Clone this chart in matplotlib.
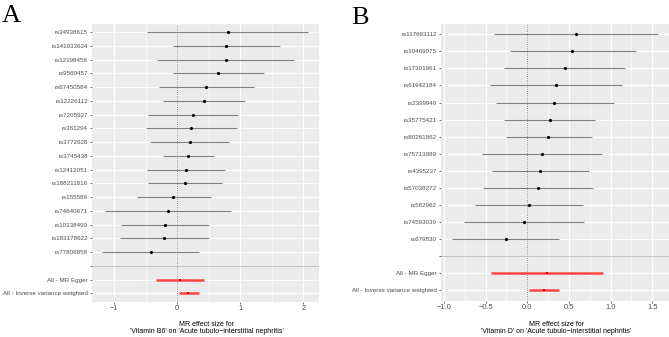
import matplotlib
matplotlib.use("Agg")
import matplotlib.pyplot as plt
import numpy as np

plt.rcParams['font.family'] = ['Liberation Sans', 'DejaVu Sans']

# ---------------- Panel A data (Vitamin B6) ----------------
snps_a = ["rs34938615", "rs141933624", "rs12198456", "rs9560457", "rs67450584",
          "rs12226112", "rs7205927", "rs361294", "rs3772928", "rs3745438",
          "rs12412051", "rs188211816", "rs155589", "rs74640671", "rs10138490",
          "rs183178622", "rs77806858"]
b_a = [0.80, 0.78, 0.77, 0.65, 0.46, 0.42, 0.25, 0.22, 0.20, 0.18,
       0.14, 0.12, -0.06, -0.14, -0.19, -0.21, -0.42]
lo_a = [-0.48, -0.06, -0.32, -0.07, -0.29, -0.22, -0.46, -0.50, -0.43, -0.23,
        -0.48, -0.46, -0.64, -1.14, -0.89, -0.91, -1.19]
hi_a = [2.08, 1.63, 1.86, 1.37, 1.22, 1.07, 0.96, 0.95, 0.83, 0.59,
        0.76, 0.71, 0.53, 0.86, 0.51, 0.50, 0.35]
sum_labels = ["All - MR Egger", "All - Inverse variance weighted"]
sum_b_a = [0.05, 0.18]
sum_lo_a = [-0.33, 0.03]
sum_hi_a = [0.43, 0.35]
xticks_a = [-1, 0, 1, 2]
xticklabels_a = ["\u22121", "0", "1", "2"]
xminor_a = [-0.5, 0.5, 1.5]
xlim_a = (-1.35, 2.25)
title_a = "MR effect size for\n'Vitamin B6' on 'Acute tubulo\u2212interstitial nephritis'"

# ---------------- Panel B data (Vitamin D) ----------------
snps_b = ["rs117693112", "rs10469075", "rs17301961", "rs61942184", "rs2399949",
          "rs35775421", "rs80261862", "rs75713989", "rs4395237", "rs57038272",
          "rs582962", "rs74593039", "rs679830"]
b_b = [0.58, 0.54, 0.45, 0.34, 0.32, 0.27, 0.25, 0.18, 0.15, 0.13, 0.02, -0.04, -0.26]
lo_b = [-0.40, -0.21, -0.28, -0.45, -0.38, -0.28, -0.26, -0.54, -0.42, -0.53, -0.63, -0.76, -0.90]
hi_b = [1.57, 1.30, 1.17, 1.14, 1.04, 0.81, 0.78, 0.90, 0.74, 0.79, 0.67, 0.68, 0.38]
sum_b_b = [0.24, 0.20]
sum_lo_b = [-0.43, 0.02]
sum_hi_b = [0.91, 0.38]
xticks_b = [-1.0, -0.5, 0.0, 0.5, 1.0, 1.5]
xticklabels_b = ["\u22121.0", "\u22120.5", "0.0", "0.5", "1.0", "1.5"]
xminor_b = [-0.75, -0.25, 0.25, 0.75, 1.25]
xlim_b = (-1.035, 1.70)
title_b = "MR effect size for\n'Vitamin D' on 'Acute tubulo\u2212interstitial nephritis'"

W, H = 669, 337
fig = plt.figure(figsize=(W / 100, H / 100), dpi=100)


def panel(rect, snps, b, lo, hi, sb, slo, shi, xticks, xtl, xminor, xlim, title, letter, letter_xy):
    ax = fig.add_axes(rect)
    ax.set_facecolor('#EBEBEB')
    labels = list(snps) + [""] + list(sum_labels)
    n = len(labels)
    ys = np.arange(n)[::-1]  # top row has highest y
    ax.set_ylim(-0.6, n - 1 + 0.6)
    ax.set_xlim(*xlim)
    # grid
    for xm in xminor:
        ax.axvline(xm, color='white', lw=0.4, zorder=0)
    for xt in xticks:
        ax.axvline(xt, color='white', lw=0.9, zorder=0)
    for y in ys:
        ax.axhline(y, color='white', lw=0.9, zorder=0)
    # zero line
    ax.axvline(0, color='#888888', lw=0.7, ls=(0, (1, 1.2)), zorder=1)
    # separator
    sep_y = ys[len(snps)]
    ax.axhline(sep_y, color='#C4C4C4', lw=0.8, zorder=1)
    # SNP rows
    for i in range(len(snps)):
        y = ys[i]
        ax.plot([lo[i], hi[i]], [y, y], color='#808080', lw=0.8, solid_capstyle='butt', zorder=2)
        ax.plot([b[i]], [y], 'o', color='black', ms=2.3, mew=0, zorder=3)
    # summary rows
    for j in range(2):
        y = ys[len(snps) + 1 + j]
        ax.plot([slo[j], shi[j]], [y, y], color='#FF4545', lw=1.8, solid_capstyle='butt', zorder=2)
        ax.plot([sb[j]], [y], 's', color='#E00000', ms=2.0, mew=0, zorder=3)
    ax.set_yticks(ys)
    ax.set_yticklabels(labels)
    ax.set_xticks(xticks)
    ax.set_xticklabels(xtl)
    ax.tick_params(axis='y', labelsize=4.5, colors='#4D4D4D', length=1.5, width=0.5, pad=1.5)
    ax.tick_params(axis='x', labelsize=5.4, colors='#4D4D4D', length=1.5, width=0.5, pad=1.0)
    ax.tick_params(axis='both', which='both', color='#333333')
    for s in ax.spines.values():
        s.set_visible(False)
    # title below
    cx = rect[0] + rect[2] / 2
    fig.text(cx + 1.5 / W, 1 - 328 / H, title, ha='center', va='center', fontsize=5.0,
             color='black', linespacing=1.1)
    fig.text(letter_xy[0], letter_xy[1], letter, family='Liberation Serif', fontsize=19,
             ha='left', va='baseline')
    return ax


panel([92 / W, 1 - 301.5 / H, 227 / W, 277.5 / H], snps_a, b_a, lo_a, hi_a,
      sum_b_a, sum_lo_a, sum_hi_a, xticks_a, xticklabels_a, xminor_a, xlim_a, title_a,
      "A", (2 / W, 1 - 22.5 / H))
panel([441 / W, 1 - 300.5 / H, 228 / W, 276.5 / H], snps_b, b_b, lo_b, hi_b,
      sum_b_b, sum_lo_b, sum_hi_b, xticks_b, xticklabels_b, xminor_b, xlim_b, title_b,
      "B", (351 / W, 1 - 23.5 / H))

fig.savefig("out.png", dpi=100)
